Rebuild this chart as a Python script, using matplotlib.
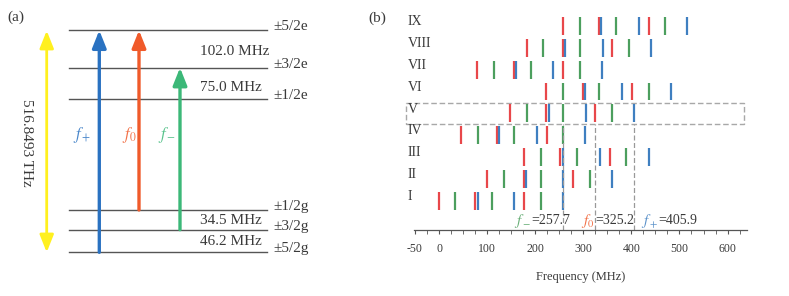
import matplotlib
matplotlib.use('Agg')
import matplotlib.pyplot as plt
from matplotlib.patches import Rectangle

plt.rcParams['font.family'] = ['Liberation Serif', 'DejaVu Serif']
plt.rcParams['mathtext.fontset'] = 'stix'

# ---- panel (a): level scheme ----
level_names = ['±5/2e', '±3/2e', '±1/2e', '±1/2g', '±3/2g', '±5/2g']
splittings = ['102.0 MHz', '75.0 MHz', '34.5 MHz', '46.2 MHz']
optical = '516.8493 THz'
trans_labels = [r'$f_+$', r'$f_0$', r'$f_-$']

# ---- panel (b): hyperfine line positions (MHz), rows I..IX ----
rows = ['I', 'II', 'III', 'IV', 'V', 'VI', 'VII', 'VIII', 'IX']
red_lines = [
    [0.0, 74.6, 176.6], [100.3, 176.6, 277.9], [176.6, 252.1, 354.8],
    [45.6, 120.4, 223.8], [147.5, 223.0, 325.2], [223.0, 298.7, 400.5],
    [79.5, 155.1, 257.7], [182.2, 257.7, 360.2], [257.7, 332.5, 435.9],
]
green_lines = [
    [33.7, 110.0, 212.0], [135.7, 211.3, 313.0], [212.0, 287.4, 389.3],
    [80.3, 155.8, 257.7], [182.2, 257.7, 360.2], [257.7, 332.5, 435.9],
    [114.8, 190.4, 293.0], [216.7, 293.0, 394.9], [293.0, 367.9, 469.7],
]
blue_lines = [
    [80.3, 156.4, 257.7], [181.4, 257.7, 359.6], [257.7, 334.6, 435.9],
    [125.2, 203.0, 304.1], [228.6, 305.5, 405.9], [303.4, 379.7, 481.6],
    [160.5, 236.9, 338.8], [262.5, 340.2, 441.3], [337.3, 415.1, 516.1],
]
f_minus, f_zero, f_plus = 257.7, 325.2, 405.9
xticks = [-50, 0, 100, 200, 300, 400, 500, 600]

TXT = '#3a3a3a'
RED, GREEN, BLUE = '#e8474a', '#4c9f5e', '#3f7fc0'
A_BLUE, A_RED, A_GREEN = '#2a72c1', '#f05a2a', '#3cb878'
HEAD = '-|>,head_length=0.7,head_width=0.28'

fig = plt.figure(figsize=(7.89, 2.96), dpi=100)

# panel (a) drawn in pixel coordinates
ax = fig.add_axes([0, 0, 1, 1])
ax.set_xlim(0, 789)
ax.set_ylim(296, 0)
ax.axis('off')

level_y = [30.3, 67.7, 99.3, 210, 229.7, 252.3]
for name, y in zip(level_names, level_y):
    ax.plot([69, 266.7], [y, y], color='#555555', lw=1)
    ax.text(273.3, y - 3.5, name, fontsize=11, color=TXT, va='center', ha='left')

for s, y in zip(splittings, [51.7, 87.7, 221, 241.7]):
    ax.text(200, y, s, fontsize=11, color=TXT, va='center', ha='left')

# transitions: (x, from level, to level, colour, label x)
arrows = [(99.3, 5, 0, A_BLUE, 73.3), (139, 3, 0, A_RED, 121.7), (180, 4, 1, A_GREEN, 158.3)]
for (x, lo, hi, c, lx), lab in zip(arrows, trans_labels):
    ax.annotate('', xy=(x, level_y[hi]), xytext=(x, level_y[lo]),
                arrowprops=dict(arrowstyle=HEAD, color=c, lw=2.4,
                                shrinkA=0, shrinkB=0, mutation_scale=15))
    ax.text(lx, 135, lab, fontsize=12, color=c, va='center', ha='left', alpha=0.85)

ax.annotate('', xy=(46.7, 30.7), xytext=(46.7, 252.3),
            arrowprops=dict(arrowstyle='<|-|>,head_length=0.7,head_width=0.28',
                            color='#fff01f', lw=2, shrinkA=0, shrinkB=0,
                            mutation_scale=15))
ax.text(26.7, 143.3, optical, fontsize=11, color=TXT, rotation=-90,
        va='center', ha='center')
ax.text(7, 17, '(a)', fontsize=11, color=TXT, va='center', ha='left')
ax.text(368, 18, '(b)', fontsize=11, color=TXT, va='center', ha='left')

# panel (b)
bx = fig.add_axes([414 / 789, 66 / 296, 332.8 / 789, 220 / 296])
bx.set_xlim(-52, 640)
bx.set_ylim(-0.324, 9.721)
for k in range(len(rows)):
    y = k + 1
    for xs, c in ((red_lines[k], RED), (green_lines[k], GREEN), (blue_lines[k], BLUE)):
        for x in xs:
            bx.vlines(x, y - 0.41, y + 0.41, color=c, lw=1.6)
    bx.text(-0.018, y + 0.2, rows[k], transform=bx.get_yaxis_transform(),
            fontsize=10, color=TXT, va='center', ha='left')

box = Rectangle((-68.6, 4.52), 634.7 + 68.6, 0.94, fill=False, ec='#a8a8a8',
                lw=1, ls=(0, (4, 2)), clip_on=False)
bx.add_patch(box)
for f in (f_minus, f_zero, f_plus):
    bx.vlines(f, -0.324, 4.52, color='#999999', lw=0.9, ls=(0, (4, 2)))

# frequency annotations: (split x, f label, value, colour)
notes = [(191.3, r'$f_-$', f_minus, GREEN), (324.3, r'$f_0$', f_zero, A_RED),
         (455.9, r'$f_+$', f_plus, BLUE)]
for x, lab, v, c in notes:
    bx.text(x, 0.1, lab, fontsize=11, color=c, ha='right', va='center', alpha=0.85)
    bx.text(x, 0.1, f'={v}', fontsize=10, color=TXT, ha='left', va='center')

for side in ('top', 'right', 'left'):
    bx.spines[side].set_visible(False)
bx.spines['bottom'].set_color('#555555')
bx.spines['bottom'].set_linewidth(0.9)
bx.set_yticks([])
bx.set_xticks(xticks)
bx.set_xticklabels([str(t) for t in xticks])
bx.set_xticks(list(range(-50, 626, 25)), minor=True)
bx.tick_params(axis='x', which='both', direction='out', length=3,
               color='#555555', labelsize=8.5, labelcolor=TXT, pad=6)
bx.set_xlabel('Frequency (MHz)', fontsize=9, color=TXT, labelpad=12)
bx.patch.set_alpha(0)

fig.savefig('out.png', dpi=100)
